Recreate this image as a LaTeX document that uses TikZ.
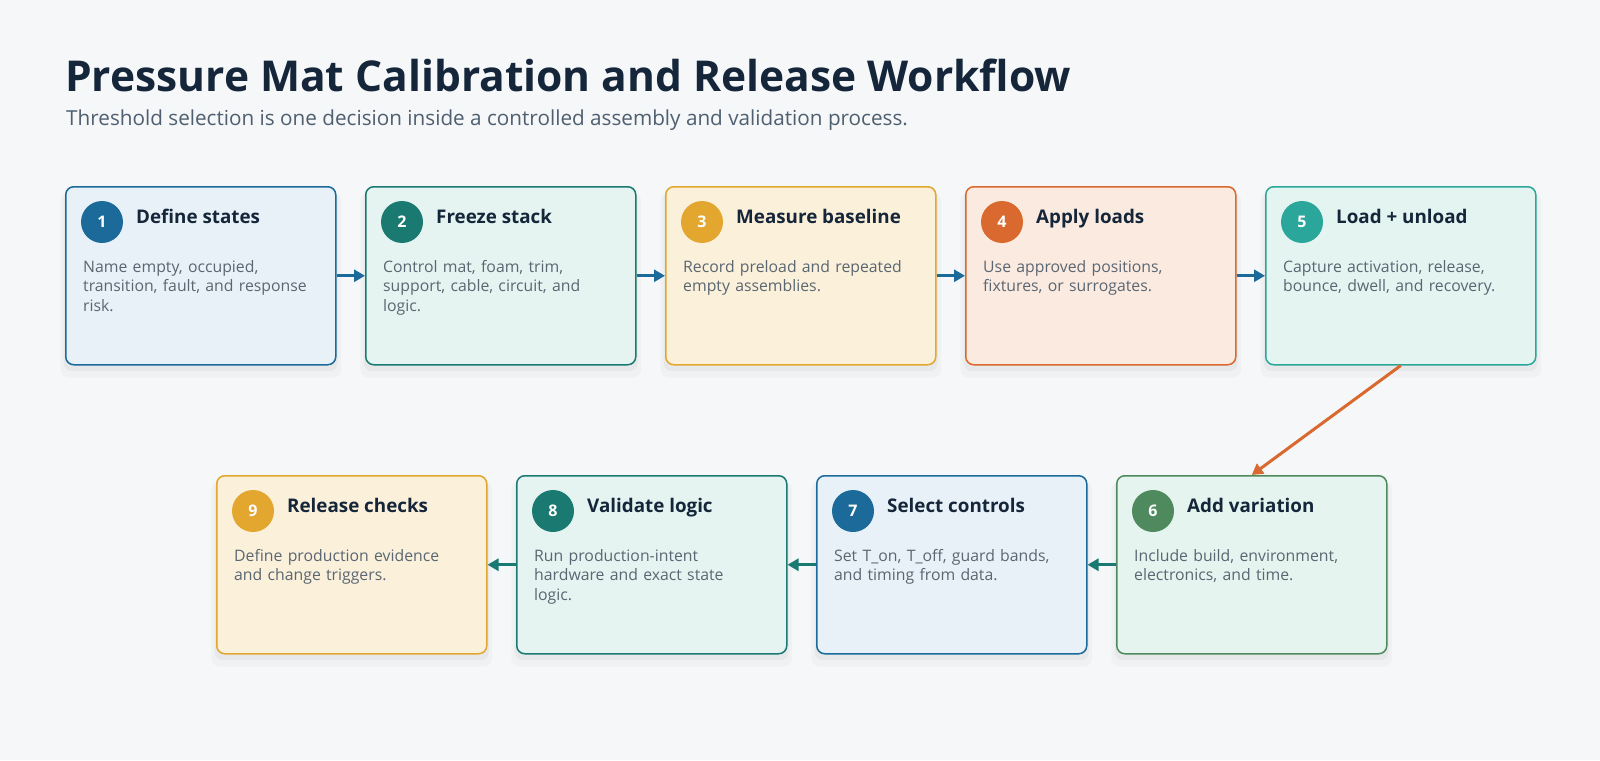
\documentclass[tikz,border=0pt]{standalone}
\usepackage{fontspec}
\setmainfont{Open Sans}
\usepackage{xcolor}
\usepackage{tikz}
\usetikzlibrary{arrows.meta, positioning, shadows}
\definecolor{pagebg}{HTML}{F5F7F9}
\definecolor{ink}{HTML}{15263A}
\definecolor{subink}{HTML}{4F5F70}
\definecolor{bodyink}{HTML}{5A6672}
\definecolor{blueline}{HTML}{1B6A9A}
\definecolor{bluefill}{HTML}{E8F1F7}
\definecolor{tealline}{HTML}{1A7A72}
\definecolor{tealfill}{HTML}{E5F4F1}
\definecolor{amberline}{HTML}{E3A730}
\definecolor{amberfill}{HTML}{FBF0DA}
\definecolor{orangeline}{HTML}{D9692E}
\definecolor{orangefill}{HTML}{FBEADF}
\definecolor{aqualine}{HTML}{2BA69A}
\definecolor{aquafill}{HTML}{E4F4F1}
\definecolor{greenline}{HTML}{4E8A5E}
\definecolor{greenfill}{HTML}{E5F4EE}
\tikzset{
  stepbox/.style={rectangle, rounded corners=8pt, minimum width=270pt, minimum height=178pt, line width=1.5pt,
    drop shadow={shadow xshift=0pt, shadow yshift=-9pt, shadow scale=1.04, opacity=0.025, fill=black},
    drop shadow={shadow xshift=0pt, shadow yshift=-5pt, shadow scale=1.015, opacity=0.035, fill=black}},
  badge/.style={circle, minimum size=42pt, inner sep=0pt, text=white, font=\fontsize{16}{16}\selectfont\bfseries},
  steptitle/.style={inner sep=0pt, anchor=base west, text=ink, font=\fontsize{18.8}{22}\selectfont\bfseries},
  stepbody/.style={inner sep=0pt, anchor=base west, text=bodyink, align=left, text width=255pt, font=\fontsize{15.8}{19.5}\selectfont},
  flow/.style={line width=3pt, -{Triangle[length=11pt, width=12pt]}},
}
\begin{document}
\begin{tikzpicture}[x=1pt, y=-1pt]
\fill[pagebg] (0,0) rectangle (1600,760);
\useasboundingbox (0,0) rectangle (1600,760);

\node[anchor=base west, inner sep=0pt, text=ink, font=\fontsize{42.5}{50}\selectfont\bfseries] (head) at (65,92) {Pressure Mat Calibration and Release Workflow};
\node[anchor=base west, inner sep=0pt, text=subink, font=\fontsize{20.7}{26}\selectfont] (sub) at (66,125) {Threshold selection is one decision inside a controlled assembly and validation process.};

% top row
\node[stepbox, draw=blueline, fill=bluefill, anchor=north west] (s1) at (65,186) {};
\node[stepbox, draw=tealline, fill=tealfill, right=28.5pt of s1] (s2) {};
\node[stepbox, draw=amberline, fill=amberfill, right=28.5pt of s2] (s3) {};
\node[stepbox, draw=orangeline, fill=orangefill, right=28.5pt of s3] (s4) {};
\node[stepbox, draw=aqualine, fill=aquafill, right=28.5pt of s4] (s5) {};

% bottom row, right to left
\node[stepbox, draw=greenline, fill=greenfill, anchor=north west] (s6) at (1116,475) {};
\node[stepbox, draw=blueline, fill=bluefill, left=28.5pt of s6] (s7) {};
\node[stepbox, draw=tealline, fill=tealfill, left=28.5pt of s7] (s8) {};
\node[stepbox, draw=amberline, fill=amberfill, left=28.5pt of s8] (s9) {};

\node[badge, fill=blueline, xshift=37pt, yshift=-36pt] (n1) at (s1.north west) {1};
\node[steptitle, xshift=71pt, yshift=-37pt] (t1) at (s1.north west) {Define states};
\node[stepbody, xshift=18pt, yshift=-86pt] (d1) at (s1.north west) {Name empty, occupied,\\transition, fault, and response\\risk.};

\node[badge, fill=tealline, xshift=37pt, yshift=-36pt] (n2) at (s2.north west) {2};
\node[steptitle, xshift=71pt, yshift=-37pt] (t2) at (s2.north west) {Freeze stack};
\node[stepbody, xshift=18pt, yshift=-86pt] (d2) at (s2.north west) {Control mat, foam, trim,\\support, cable, circuit, and\\logic.};

\node[badge, fill=amberline, xshift=37pt, yshift=-36pt] (n3) at (s3.north west) {3};
\node[steptitle, xshift=71pt, yshift=-37pt] (t3) at (s3.north west) {Measure baseline};
\node[stepbody, xshift=18pt, yshift=-86pt] (d3) at (s3.north west) {Record preload and repeated\\empty assemblies.};

\node[badge, fill=orangeline, xshift=37pt, yshift=-36pt] (n4) at (s4.north west) {4};
\node[steptitle, xshift=71pt, yshift=-37pt] (t4) at (s4.north west) {Apply loads};
\node[stepbody, xshift=18pt, yshift=-86pt] (d4) at (s4.north west) {Use approved positions,\\fixtures, or surrogates.};

\node[badge, fill=aqualine, xshift=37pt, yshift=-36pt] (n5) at (s5.north west) {5};
\node[steptitle, xshift=71pt, yshift=-37pt] (t5) at (s5.north west) {Load + unload};
\node[stepbody, xshift=18pt, yshift=-86pt] (d5) at (s5.north west) {Capture activation, release,\\bounce, dwell, and recovery.};

\node[badge, fill=greenline, xshift=37pt, yshift=-36pt] (n6) at (s6.north west) {6};
\node[steptitle, xshift=71pt, yshift=-37pt] (t6) at (s6.north west) {Add variation};
\node[stepbody, xshift=18pt, yshift=-86pt] (d6) at (s6.north west) {Include build, environment,\\electronics, and time.};

\node[badge, fill=blueline, xshift=37pt, yshift=-36pt] (n7) at (s7.north west) {7};
\node[steptitle, xshift=71pt, yshift=-37pt] (t7) at (s7.north west) {Select controls};
\node[stepbody, xshift=18pt, yshift=-86pt] (d7) at (s7.north west) {Set T\_on, T\_off, guard bands,\\and timing from data.};

\node[badge, fill=tealline, xshift=37pt, yshift=-36pt] (n8) at (s8.north west) {8};
\node[steptitle, xshift=71pt, yshift=-37pt] (t8) at (s8.north west) {Validate logic};
\node[stepbody, xshift=18pt, yshift=-86pt] (d8) at (s8.north west) {Run production-intent\\hardware and exact state\\logic.};

\node[badge, fill=amberline, xshift=37pt, yshift=-36pt] (n9) at (s9.north west) {9};
\node[steptitle, xshift=71pt, yshift=-37pt] (t9) at (s9.north west) {Release checks};
\node[stepbody, xshift=18pt, yshift=-86pt] (d9) at (s9.north west) {Define production evidence\\and change triggers.};

\draw[flow, blueline] (s1) -- (s2);
\draw[flow, blueline] (s2) -- (s3);
\draw[flow, blueline] (s3) -- (s4);
\draw[flow, blueline] (s4) -- (s5);
\draw[flow, orangeline] (s5.south) -- (s6.north);
\draw[flow, tealline] (s6) -- (s7);
\draw[flow, tealline] (s7) -- (s8);
\draw[flow, tealline] (s8) -- (s9);
\end{tikzpicture}
\end{document}
